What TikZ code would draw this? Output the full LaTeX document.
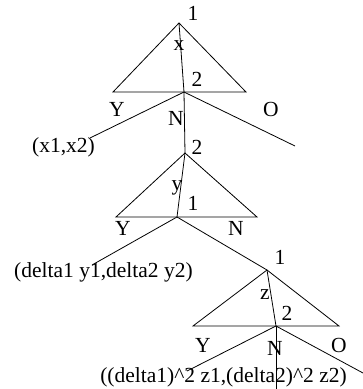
\documentclass[tikz,border=0pt]{standalone}
\usepackage{fontspec}
\setmainfont{Liberation Serif}
\tikzset{lab/.style={inner sep=0pt,font=\fontsize{21.5}{24}\selectfont}}
\begin{document}
\begin{tikzpicture}[x=1pt,y=-1pt,line width=0.8pt]
\useasboundingbox (0,0) rectangle (363,389);
\coordinate (t1) at (179,23);
\coordinate (t1l) at (113,92);
\coordinate (t1r) at (246,92);
\coordinate (j1) at (184,92);
\coordinate (e1l) at (90,138);
\coordinate (e1r) at (295,146);
\coordinate (t2) at (185,153);
\coordinate (t2l) at (116,217);
\coordinate (t2r) at (257,217);
\coordinate (j2) at (177,217);
\coordinate (e2l) at (92,265);
\coordinate (t3) at (267,270);
\coordinate (t3l) at (193,326);
\coordinate (t3r) at (339,326);
\coordinate (j3) at (276,326);
\coordinate (e3l) at (187,371);
\coordinate (e3r) at (363,373);
\coordinate (e3n) at (276,389);
\draw (t1l) -- (t1) -- (t1r) -- cycle;
\draw (t1) -- (j1);
\draw (j1) -- (e1l);
\draw (j1) -- (e1r);
\draw (j1) -- (t2);
\draw (t2l) -- (t2) -- (t2r) -- cycle;
\draw (t2) -- (j2);
\draw (j2) -- (e2l);
\draw (j2) -- (t3);
\draw (t3l) -- (t3) -- (t3r) -- cycle;
\draw (t3) -- (j3);
\draw (j3) -- (e3l);
\draw (j3) -- (e3r);
\draw (j3) -- (e3n);
\node[lab] (n1) at (193,13) {1};
\node[lab] (nx) at (179,46) {x};
\node[lab] (n2) at (197,79) {2};
\node[lab] (nY1) at (117,109) {Y};
\node[lab] (nN1) at (176,118) {N};
\node[lab] (nO1) at (271,109) {O};
\node[lab] (nx12) at (63.5,147) {(x1,x2)};
\node[lab] (n3) at (197,147) {2};
\node[lab] (ny) at (177,188) {y};
\node[lab] (n4) at (193,203) {1};
\node[lab] (nY2) at (123,228) {Y};
\node[lab] (nN2) at (236,228) {N};
\node[lab] (ndy) at (103.5,272) {(delta1 y1,delta2 y2)};
\node[lab] (n5) at (280,257) {1};
\node[lab] (nz) at (265,295) {z};
\node[lab] (n6) at (287,313) {2};
\node[lab] (nY3) at (203,345) {Y};
\node[lab] (nN3) at (275,348) {N};
\node[lab] (nO3) at (339,345) {O};
\node[lab] (ndz) at (223.5,377) {((delta1)\^{}2 z1,(delta2)\^{}2 z2)};
\end{tikzpicture}
\end{document}
